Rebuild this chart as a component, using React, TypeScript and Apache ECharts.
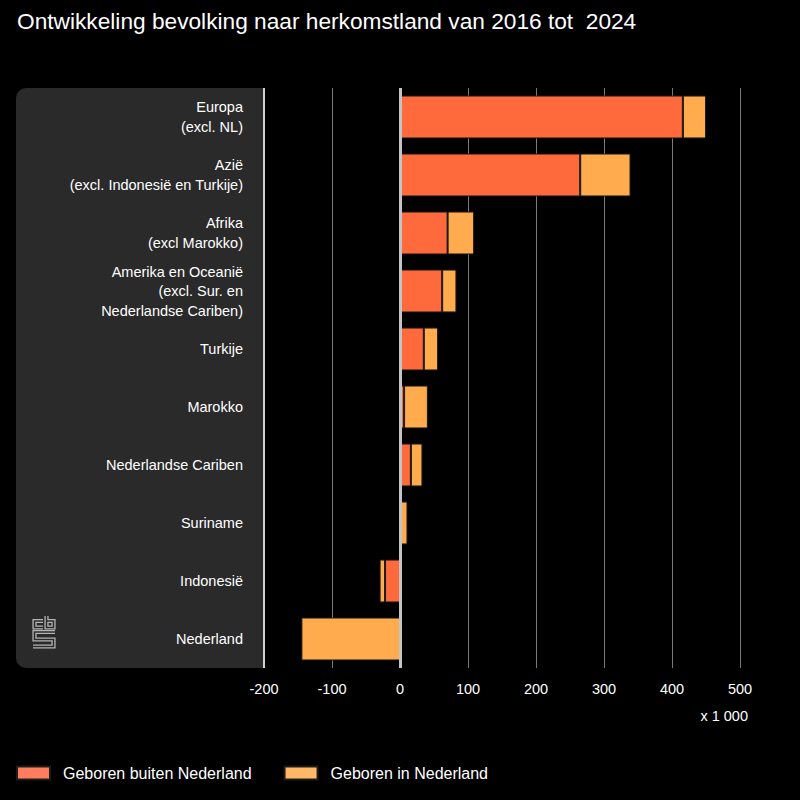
import React, { useEffect, useRef } from "react";
import * as echarts from "echarts";

const categories = [
  "Europa\n(excl. NL)",
  "Azië\n(excl. Indonesië en Turkije)",
  "Afrika\n(excl Marokko)",
  "Amerika en Oceanië\n(excl. Sur. en\nNederlandse Cariben)",
  "Turkije",
  "Marokko",
  "Nederlandse Cariben",
  "Suriname",
  "Indonesië",
  "Nederland",
];
const geborenBuiten = [416, 265, 70, 62, 35, 6, 16, 0, -22, 0];
const geborenIn = [34, 74, 39, 21, 21, 35, 17, 11, -8, -145];
const seriesNames = ["Geboren buiten Nederland", "Geboren in Nederland"];
const xTicks = { min: -200, max: 500, interval: 100 };
const unitLabel = "x 1 000";
const titleText = "Ontwikkeling bevolking naar herkomstland van 2016 tot  2024";

const FONT = "'Liberation Sans', Arial, Helvetica, sans-serif";
const RED = "#ff6a3c";
const YELLOW = "#ffab4e";
const PANEL = "#2a2a2a";

export default function App() {
  const ref = useRef<HTMLDivElement>(null);
  useEffect(() => {
    if (!ref.current) return;
    const chart = echarts.init(ref.current, null, { renderer: "svg" });
    const logoStroke = (pts: number[][], w: number, c: string) => ({
      type: "polyline",
      shape: { points: pts },
      style: { stroke: c, lineWidth: w, fill: null, lineJoin: "miter" },
      z: 5,
    });
    const logoShapes = [
      [[43, 621], [34.5, 621], [34.5, 627.5], [43, 627.5]],
      [[46.5, 616], [46.5, 627.5], [53.5, 627.5], [53.5, 621], [46.5, 621]],
      [[55, 632], [34.5, 632], [34.5, 639.5], [53.5, 639.5], [53.5, 646.5], [33, 646.5]],
    ];
    const logo: any[] = [];
    logoShapes.forEach((p) => logo.push(logoStroke(p, 4.2, "#b5b5b5")));
    logoShapes.forEach((p) => logo.push(logoStroke(p, 1.6, PANEL)));

    chart.setOption({
      animation: false,
      backgroundColor: "#000",
      textStyle: { fontFamily: FONT },
      title: {
        text: titleText,
        left: 17,
        top: 9,
        padding: 0,
        textStyle: { color: "#fff", fontSize: 22.7, fontWeight: "normal", fontFamily: FONT },
      },
      legend: {
        left: 16,
        top: 765,
        padding: 0,
        itemWidth: 33,
        itemHeight: 13,
        itemGap: 32,
        icon: "rect",
        textStyle: { color: "#fff", fontSize: 16, fontFamily: FONT, padding: [0, 0, 0, 8] },
        data: [
          { name: seriesNames[0], itemStyle: { color: "#ff7d5c" } },
          { name: seriesNames[1], itemStyle: { color: "#ffb866" } },
        ],
      },
      grid: { left: 264, right: 60, top: 88, bottom: 132, containLabel: false },
      xAxis: {
        type: "value",
        min: xTicks.min,
        max: xTicks.max,
        interval: xTicks.interval,
        axisLine: { show: false },
        axisTick: { show: false },
        axisLabel: { color: "#fff", fontSize: 14.5, margin: 13, fontFamily: FONT },
        splitLine: {
          show: true,
          lineStyle: {
            width: 1,
            color: ["#d0d0d0", "#7a7a7a", "#bbbbbb", "#7a7a7a", "#7a7a7a", "#7a7a7a", "#7a7a7a", "#7a7a7a"],
          },
        },
      },
      yAxis: {
        type: "category",
        inverse: true,
        data: categories,
        axisLine: { show: false },
        axisTick: { show: false },
        axisLabel: {
          color: "#fff",
          fontSize: 14.5,
          lineHeight: 19.5,
          margin: 21,
          align: "right",
          fontFamily: FONT,
        },
      },
      graphic: [
        {
          type: "rect",
          shape: { x: 16, y: 88, width: 248, height: 580, r: [10, 0, 0, 10] },
          style: { fill: PANEL },
          z: -100,
          silent: true,
        },
        {
          type: "line",
          shape: { x1: 264, y1: 88, x2: 264, y2: 668 },
          style: { stroke: "#d0d0d0", lineWidth: 2 },
          z: -50,
          silent: true,
        },
        ...logo,
        {
          type: "text",
          x: 748,
          y: 716,
          style: {
            text: unitLabel,
            fill: "#fff",
            fontSize: 14.5,
            fontFamily: FONT,
            textAlign: "right",
            textVerticalAlign: "middle",
          },
        },
      ],
      series: [
        {
          name: seriesNames[0],
          type: "bar",
          stack: "total",
          barWidth: "74%",
          data: geborenBuiten,
          itemStyle: { color: RED, borderColor: "#1c1c1c", borderWidth: 1 },
          markLine: {
            silent: true,
            symbol: "none",
            label: { show: false },
            lineStyle: { color: "#c4c4c4", width: 3, type: "solid" },
            data: [{ xAxis: 0 }],
          },
        },
        {
          name: seriesNames[1],
          type: "bar",
          stack: "total",
          barWidth: "74%",
          data: geborenIn,
          itemStyle: { color: YELLOW, borderColor: "#1c1c1c", borderWidth: 1 },
        },
      ],
    });
    return () => chart.dispose();
  }, []);
  return (
    <div
      ref={ref}
      style={{ position: "fixed", left: 0, top: 0, width: 800, height: 800, background: "#000" }}
    />
  );
}
